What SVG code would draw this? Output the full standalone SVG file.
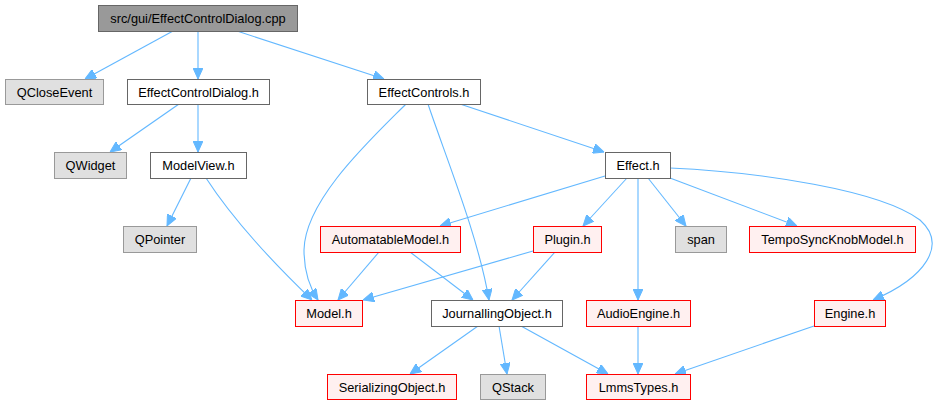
<svg xmlns="http://www.w3.org/2000/svg" width="939" height="405" viewBox="0 0 939 405">
<style>
text{font-family:"Liberation Sans",Arial,sans-serif;font-size:12.8px;fill:#000;text-anchor:middle}
.root rect{fill:#999999;stroke:#666666}
.grey rect{fill:#e0e0e0;stroke:#999999}
.white rect{fill:#ffffff;stroke:#666666}
.red rect{fill:#fff0f0;stroke:#ff0000}
#edges path{fill:none;stroke:#63b8ff;stroke-width:1.1;marker-end:url(#arr)}
</style>
<defs>
<marker id="arr" markerUnits="userSpaceOnUse" viewBox="0 0 11 10" markerWidth="11" markerHeight="10" refX="11" refY="5" orient="auto">
<path d="M0,0 L11,5 L0,10 z" fill="#63b8ff" stroke="#63b8ff"/>
</marker>
</defs>
<rect width="939" height="405" fill="#ffffff"/>
<g id="edges">
<path d="M173,31 L85,79"/>
<path d="M198,31 L198,79"/>
<path d="M237,31 L384,79"/>
<path d="M179,104 L110,152"/>
<path d="M198,104 L198,152"/>
<path d="M406,104 C370,140 305,200 304,250 C304,272 310,288 318,300"/>
<path d="M428,104 C445,155 478,235 489,300"/>
<path d="M460,104 L604,152"/>
<path d="M191,178 L167,226"/>
<path d="M206,178 C230,215 262,252 312,300"/>
<path d="M605,176 L440,226"/>
<path d="M627,178 L583,226"/>
<path d="M638,178 L638,300"/>
<path d="M648,178 L686,226"/>
<path d="M670,178 L797,226"/>
<path d="M670,168 C760,172 880,190 920,220 C948,245 925,278 873,300"/>
<path d="M379,252 L338,300"/>
<path d="M410,252 L473,300"/>
<path d="M533,251 L363,300"/>
<path d="M555,252 L512,300"/>
<path d="M478,326 L410,374"/>
<path d="M499,326 L507,374"/>
<path d="M521,326 L608,374"/>
<path d="M638,326 L638,374"/>
<path d="M814,326 L675,374"/>
</g>
<g id="root" class="root"><rect x="98.5" y="5.5" width="199" height="26"/><text x="198" y="23">src/gui/EffectControlDialog.cpp</text></g>
<g id="qcloseevent" class="grey"><rect x="5.5" y="79.5" width="98" height="25"/><text x="54.5" y="96.5">QCloseEvent</text></g>
<g id="effectcontroldialog_h" class="white"><rect x="127.5" y="79.5" width="142" height="25"/><text x="198.5" y="96.5">EffectControlDialog.h</text></g>
<g id="effectcontrols_h" class="white"><rect x="367.5" y="79.5" width="113" height="25"/><text x="424" y="96.5">EffectControls.h</text></g>
<g id="qwidget" class="grey"><rect x="54.5" y="152.5" width="72" height="26"/><text x="90.5" y="170">QWidget</text></g>
<g id="modelview_h" class="white"><rect x="150.5" y="152.5" width="96" height="26"/><text x="198.5" y="170">ModelView.h</text></g>
<g id="effect_h" class="white"><rect x="605.5" y="152.5" width="65" height="26"/><text x="638" y="170">Effect.h</text></g>
<g id="qpointer" class="grey"><rect x="123.5" y="226.5" width="73" height="26"/><text x="160" y="244">QPointer</text></g>
<g id="automatablemodel_h" class="red"><rect x="320.5" y="226.5" width="140" height="26"/><text x="390.5" y="244">AutomatableModel.h</text></g>
<g id="plugin_h" class="red"><rect x="533.5" y="226.5" width="68" height="26"/><text x="567.5" y="244">Plugin.h</text></g>
<g id="span" class="grey"><rect x="675.5" y="226.5" width="51" height="26"/><text x="701" y="244">span</text></g>
<g id="temposyncknobmodel_h" class="red"><rect x="749.5" y="226.5" width="166" height="26"/><text x="832.5" y="244">TempoSyncKnobModel.h</text></g>
<g id="model_h" class="red"><rect x="295.5" y="300.5" width="67" height="26"/><text x="329" y="318">Model.h</text></g>
<g id="journallingobject_h" class="white"><rect x="431.5" y="300.5" width="131" height="26"/><text x="497" y="318">JournallingObject.h</text></g>
<g id="audioengine_h" class="red"><rect x="586.5" y="300.5" width="104" height="26"/><text x="638.5" y="318">AudioEngine.h</text></g>
<g id="engine_h" class="red"><rect x="814.5" y="300.5" width="71" height="26"/><text x="850" y="318">Engine.h</text></g>
<g id="serializingobject_h" class="red"><rect x="327.5" y="374.5" width="129" height="25"/><text x="392" y="391.5">SerializingObject.h</text></g>
<g id="qstack" class="grey"><rect x="480.5" y="374.5" width="65" height="25"/><text x="513" y="391.5">QStack</text></g>
<g id="lmmstypes_h" class="red"><rect x="586.5" y="374.5" width="104" height="25"/><text x="638.5" y="391.5">LmmsTypes.h</text></g>
</svg>
